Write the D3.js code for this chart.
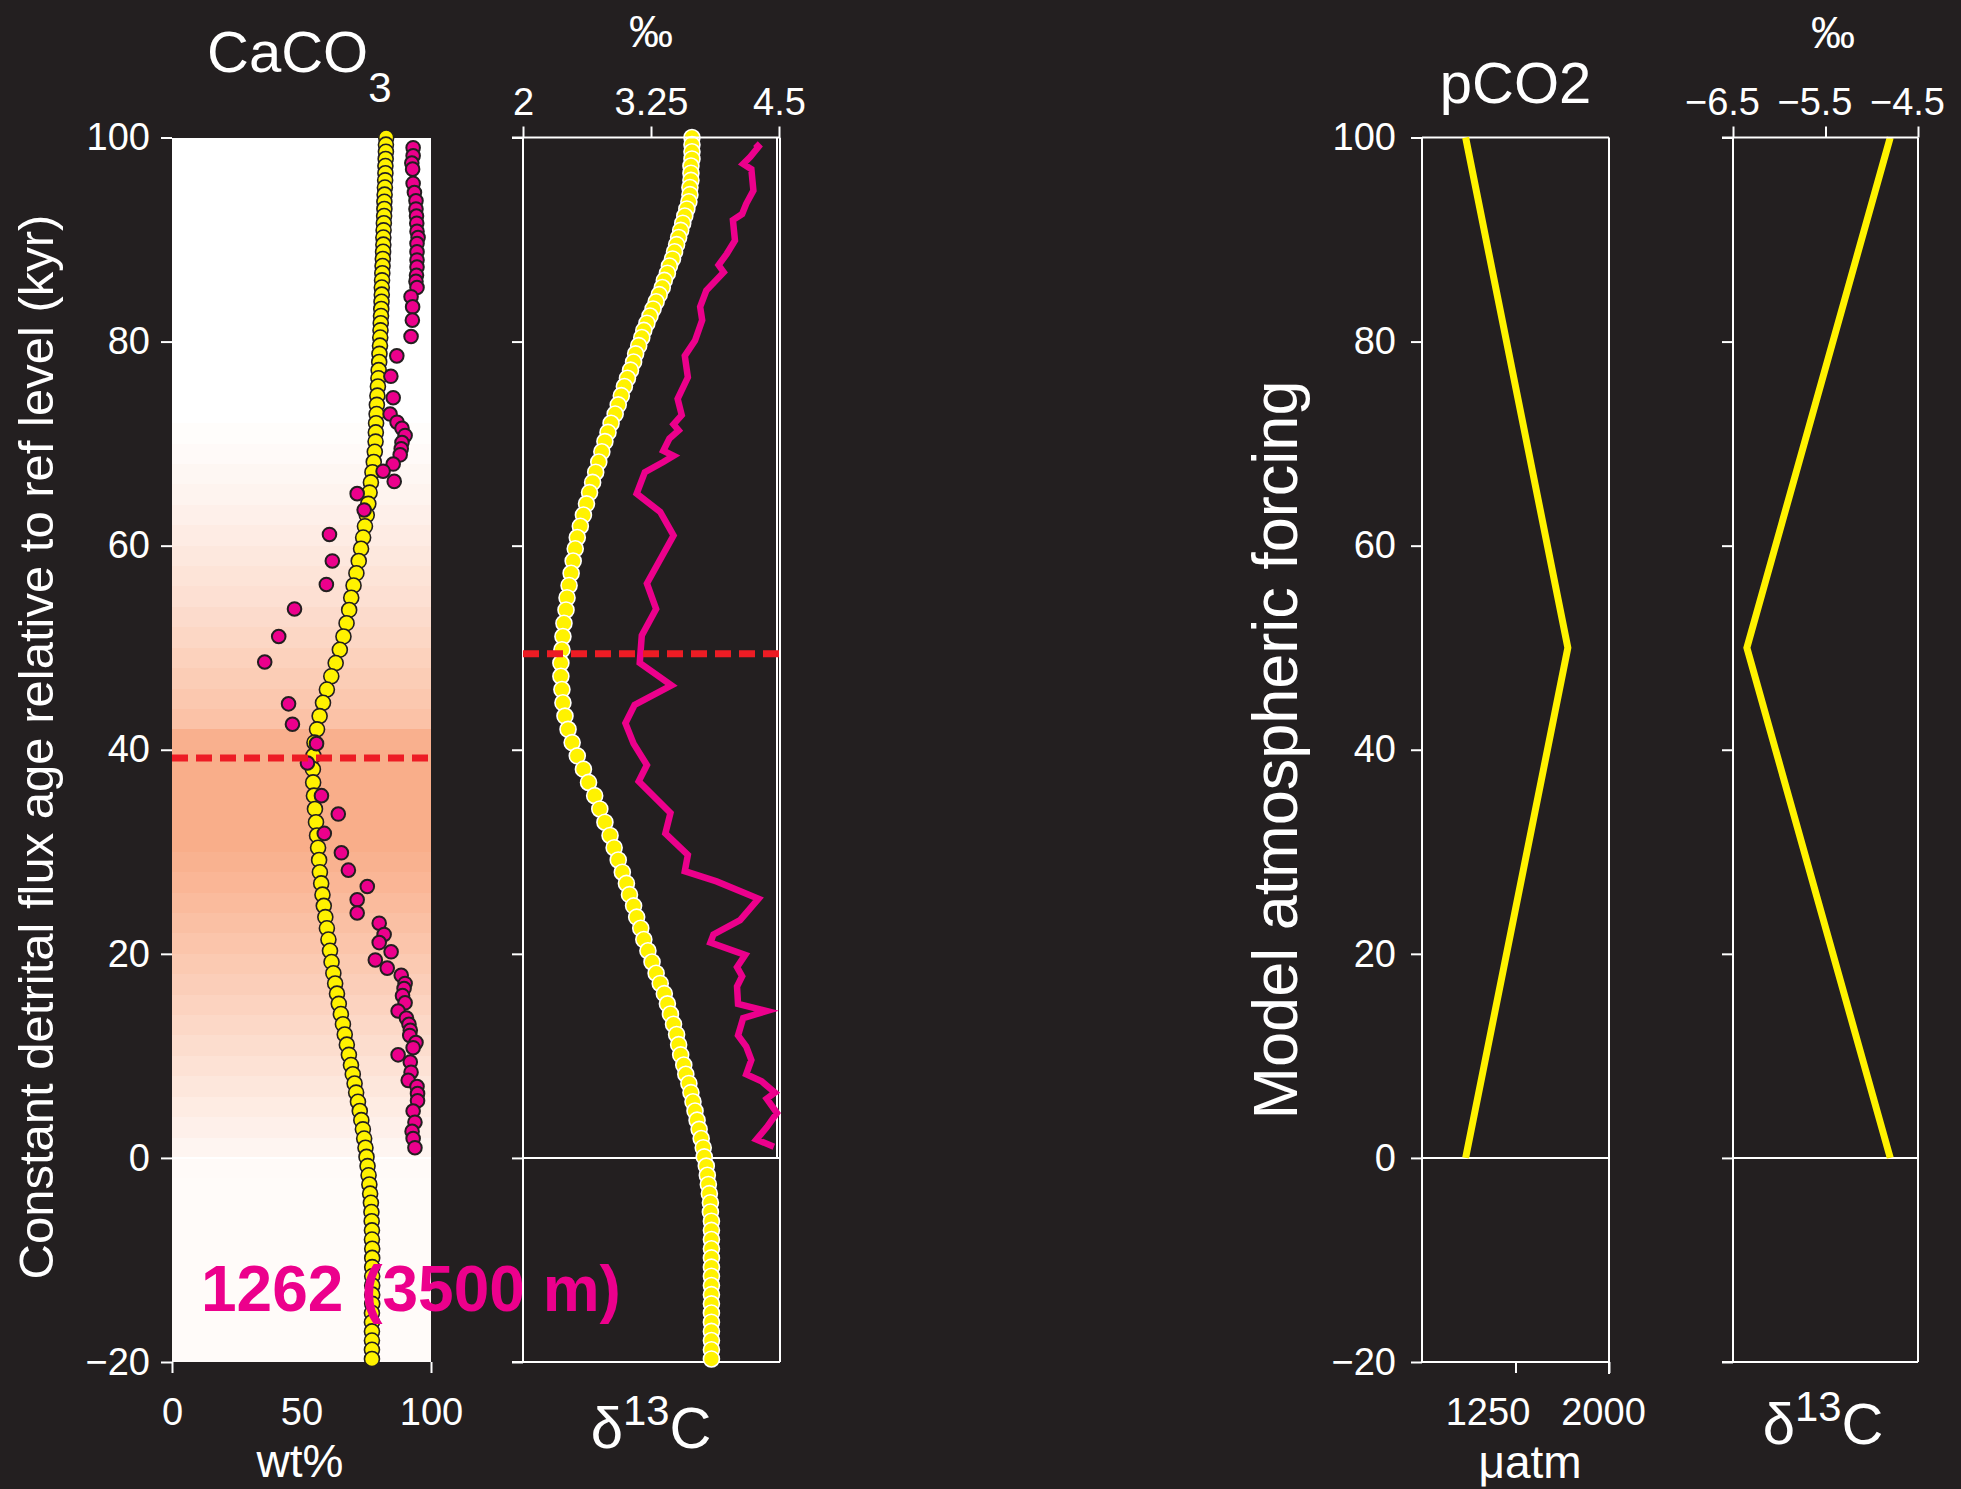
<!DOCTYPE html>
<html>
<head>
<meta charset="utf-8">
<script src="https://cdn.jsdelivr.net/npm/d3@7"></script>
<style>
    body { margin: 0; background: #231f20; }
    svg { display: block; }
</style>
</head>
<body>
<script>
// ages of the model output points (kyr), shared by the two model curves
var modelAge = [100, 99.3, 98.6, 97.9, 97.2, 96.5, 95.8, 95.1, 94.4, 93.7,
    93.0, 92.3, 91.6, 90.9, 90.2, 89.5, 88.8, 88.1, 87.4, 86.7,
    86.0, 85.3, 84.6, 83.9, 83.2, 82.5, 81.8, 81.1, 80.4, 79.6,
    78.8, 78.0, 77.2, 76.4, 75.6, 74.7, 73.8, 72.9, 72.0, 71.1,
    70.2, 69.2, 68.2, 67.2, 66.2, 65.2, 64.1, 63.0, 61.9, 60.8,
    59.7, 58.5, 57.3, 56.1, 54.9, 53.7, 52.4, 51.1, 49.8, 48.5,
    47.2, 45.9, 44.6, 43.3, 42.0, 40.7, 39.4, 38.1, 36.8, 35.5,
    34.2, 32.9, 31.6, 30.4, 29.2, 28.0, 26.9, 25.8, 24.7, 23.6,
    22.5, 21.4, 20.3, 19.2, 18.1, 17.1, 16.1, 15.1, 14.1, 13.1,
    12.1, 11.1, 10.1, 9.1, 8.2, 7.3, 6.4, 5.5, 4.6, 3.7,
    2.8, 1.9, 1.0, 0.1, -0.8, -1.7, -2.6, -3.5, -4.4, -5.3,
    -6.2, -7.1, -8.0, -8.9, -9.8, -10.7, -11.6, -12.5, -13.4, -14.3,
    -15.2, -16.1, -17.0, -17.9, -18.8, -19.7];

var modelCaCO3 = [82.7, 82.6, 82.6, 82.5, 82.4, 82.4, 82.3, 82.2, 82.1, 82.0,
    82.0, 81.9, 81.8, 81.7, 81.6, 81.6, 81.5, 81.4, 81.3, 81.2,
    81.1, 81.0, 81.0, 80.9, 80.8, 80.7, 80.6, 80.5, 80.4, 80.3,
    80.1, 80.0, 79.8, 79.7, 79.5, 79.3, 79.1, 79.0, 78.8, 78.7,
    78.6, 78.3, 77.9, 77.4, 76.8, 76.3, 75.8, 75.2, 74.5, 73.8,
    73.0, 72.1, 71.2, 70.1, 69.2, 68.4, 67.4, 66.2, 64.8, 63.2,
    61.5, 59.8, 58.3, 57.0, 56.0, 55.0, 54.6, 54.4, 54.5, 54.8,
    55.2, 55.6, 56.0, 56.4, 56.8, 57.1, 57.6, 58.1, 58.6, 59.2,
    59.8, 60.4, 61.0, 61.6, 62.3, 63.0, 63.7, 64.4, 65.2, 66.0,
    66.7, 67.5, 68.3, 69.1, 69.8, 70.5, 71.1, 71.8, 72.5, 73.1,
    73.7, 74.2, 74.7, 75.1, 75.5, 75.9, 76.2, 76.5, 76.8, 77.0,
    77.1, 77.2, 77.2, 77.3, 77.3, 77.3, 77.3, 77.3, 77.3, 77.3,
    77.2, 77.2, 77.2, 77.2, 77.2, 77.2];

var modelD13C = [3.65, 3.65, 3.65, 3.65, 3.64, 3.64, 3.64, 3.63, 3.63, 3.62,
    3.60, 3.58, 3.56, 3.54, 3.52, 3.50, 3.48, 3.46, 3.43, 3.41,
    3.38, 3.36, 3.33, 3.30, 3.27, 3.24, 3.21, 3.18, 3.16, 3.13,
    3.10, 3.08, 3.05, 3.02, 2.99, 2.96, 2.93, 2.90, 2.86, 2.83,
    2.80, 2.77, 2.74, 2.71, 2.68, 2.65, 2.62, 2.59, 2.56, 2.53,
    2.51, 2.49, 2.47, 2.45, 2.43, 2.42, 2.40, 2.39, 2.38, 2.37,
    2.37, 2.38, 2.39, 2.41, 2.44, 2.48, 2.53, 2.59, 2.64, 2.70,
    2.75, 2.80, 2.85, 2.89, 2.93, 2.97, 3.01, 3.04, 3.08, 3.11,
    3.15, 3.18, 3.22, 3.26, 3.30, 3.34, 3.38, 3.41, 3.44, 3.47,
    3.50, 3.52, 3.54, 3.57, 3.59, 3.62, 3.64, 3.66, 3.68, 3.70,
    3.72, 3.74, 3.76, 3.77, 3.79, 3.80, 3.81, 3.82, 3.83, 3.83,
    3.84, 3.84, 3.84, 3.84, 3.84, 3.84, 3.84, 3.84, 3.84, 3.84,
    3.84, 3.84, 3.84, 3.84, 3.84, 3.84];

// site 1262 measurements
var siteAge = [99.0, 98.2, 97.5, 96.9, 95.5, 94.6, 93.8, 93.0, 92.3, 91.6,
    90.8, 90.2, 89.6, 88.8, 88.0, 87.3, 86.5, 85.9, 85.3, 84.4,
    83.4, 82.1, 80.5, 78.6, 76.6, 74.5, 72.9, 72.1, 71.5, 70.8,
    70.1, 69.5, 68.9, 68.0, 67.3, 66.3, 65.1, 63.5, 61.1, 58.5,
    56.2, 53.8, 51.1, 48.6, 44.5, 42.5, 40.6, 38.7, 35.5, 33.7,
    31.8, 29.9, 28.2, 26.6, 25.3, 24.0, 23.0, 21.9, 21.1, 20.2,
    19.4, 18.6, 17.9, 17.1, 16.6, 15.9, 15.2, 14.4, 13.7, 13.1,
    12.5, 12.0, 11.3, 10.8, 10.1, 9.4, 8.4, 7.6, 7.0, 6.3,
    5.6, 4.6, 3.5, 2.6, 1.9, 1.0];

var siteCaCO3 = [93.1, 93.1, 92.6, 92.9, 93.1, 93.6, 94.2, 94.2, 94.4, 94.5,
    94.6, 95.0, 94.6, 94.6, 94.6, 94.6, 94.4, 94.2, 94.6, 92.3,
    92.9, 92.8, 92.3, 86.8, 84.5, 85.4, 84.2, 86.9, 88.8, 90.0,
    88.8, 88.5, 88.1, 85.4, 81.5, 85.8, 71.5, 74.2, 60.8, 61.9,
    59.6, 47.3, 41.2, 35.8, 45.0, 46.5, 55.8, 52.3, 57.7, 64.2,
    58.8, 65.4, 68.1, 75.4, 71.5, 71.5, 80.0, 81.9, 80.0, 84.6,
    78.5, 83.1, 88.5, 90.0, 89.6, 89.0, 90.0, 87.3, 90.5, 91.5,
    92.0, 91.8, 94.2, 93.1, 87.3, 92.0, 92.3, 91.2, 94.6, 94.8,
    94.8, 93.1, 93.8, 92.7, 93.1, 93.8];

var siteD13CAge = [99.4, 99.1, 98.1, 97.4, 96.9, 94.8, 93.5, 92.5, 91.9, 89.9,
    88.6, 87.5, 86.8, 85.0, 83.4, 82.1, 80.1, 78.6, 76.5, 74.4,
    72.8, 71.9, 71.3, 70.5, 69.3, 68.8, 68.2, 67.2, 65.1, 63.3,
    61.0, 56.3, 53.8, 51.2, 48.5, 46.3, 44.4, 42.6, 40.6, 38.5,
    36.9, 33.8, 31.8, 29.7, 28.1, 27.1, 25.4, 23.3, 21.9, 21.1,
    19.9, 18.7, 17.8, 16.8, 15.1, 14.4, 13.7, 12.0, 10.9, 9.6,
    8.2, 7.5, 6.4, 5.8, 4.4, 3.0, 1.8, 1.1];

var siteD13C = [4.27, 4.30, 4.22, 4.15, 4.23, 4.25, 4.18, 4.14, 4.05, 4.07,
    3.99, 3.91, 3.96, 3.79, 3.73, 3.75, 3.68, 3.58, 3.61, 3.51,
    3.55, 3.47, 3.52, 3.43, 3.37, 3.47, 3.37, 3.19, 3.11, 3.34,
    3.47, 3.21, 3.30, 3.16, 3.14, 3.45, 3.09, 3.00, 3.08, 3.21,
    3.13, 3.44, 3.39, 3.61, 3.58, 3.89, 4.30, 4.12, 3.86, 3.83,
    4.17, 4.09, 4.14, 4.09, 4.10, 4.38, 4.15, 4.10, 4.18, 4.23,
    4.18, 4.33, 4.46, 4.38, 4.48, 4.38, 4.28, 4.45];

// shading behind the CaCO3 panel, 2 kyr bands (bottom edge age)
var bandAge = [-20, -18, -16, -14, -12, -10, -8, -6, -4, -2,
    0, 2, 4, 6, 8, 10, 12, 14, 16, 18,
    20, 22, 24, 26, 28, 30, 32, 34, 36, 38,
    40, 42, 44, 46, 48, 50, 52, 54, 56, 58,
    60, 62, 64, 66, 68, 70, 72, 74, 76, 78,
    80, 82, 84, 86, 88, 90, 92, 94, 96, 98];
var bandShade = [0.05, 0.05, 0.05, 0.05, 0.05, 0.05, 0.05, 0.05, 0.05, 0.06,
    0.12, 0.18, 0.24, 0.30, 0.36, 0.42, 0.48, 0.54, 0.60, 0.66,
    0.72, 0.78, 0.84, 0.90, 0.95, 1.0, 1.0, 1.0, 1.0, 1.0,
    0.97, 0.75, 0.68, 0.62, 0.56, 0.50, 0.44, 0.38, 0.33, 0.28,
    0.23, 0.18, 0.14, 0.10, 0.06, 0.03, 0, 0, 0, 0,
    0, 0, 0, 0, 0, 0, 0, 0, 0, 0];

// horizons marked with dashes
var caco3Horizon = 39.2;
var d13cHorizon = 49.4;

// model atmospheric forcing
var forcingAge = [0, 50, 100];
var forcingPCO2 = [850, 1670, 850];
var forcingD13C = [-4.8, -6.35, -4.8];

var ageTicks = [-20, 0, 20, 40, 60, 80, 100];
var caco3Ticks = [0, 50, 100];
var d13cTicks = [2, 3.25, 4.5];
var pco2Ticks = [1250, 2000];
var atmTicks = [-6.5, -5.5, -4.5];

var bg = "#231f20",
    yellow = "#fff200",
    magenta = "#ec008c",
    red = "#ed1c24",
    font = "'Liberation Sans', Arial, Helvetica, sans-serif";

var svg = d3.select("body").append("svg")
    .attr("width", 1961)
    .attr("height", 1489)
    .style("font-family", font);

svg.append("rect")
    .attr("width", 1961)
    .attr("height", 1489)
    .attr("fill", bg);

var y = d3.scaleLinear().domain([-20, 100]).range([1362, 137.5]);

caco3Panel();
d13cPanel();
pco2Panel();
atmD13CPanel();

function styleAxis(g, size) {
    g.attr("font-size", size).attr("font-family", font);
    g.select(".domain").remove();
    g.selectAll(".tick line").attr("stroke", "#fff").attr("stroke-width", 2);
    g.selectAll(".tick text").attr("fill", "#fff");
}

function frameLine(x1, y1, x2, y2) {
    svg.append("line")
        .attr("x1", x1).attr("y1", y1)
        .attr("x2", x2).attr("y2", y2)
        .attr("stroke", "#fff")
        .attr("stroke-width", 2);
}

function delta13(x, yy, size) {
    var t = svg.append("text")
        .attr("x", x)
        .attr("y", yy)
        .attr("text-anchor", "middle")
        .attr("font-size", size)
        .attr("fill", "#fff");
    t.append("tspan").text("\u03b4");
    t.append("tspan").attr("font-size", size * 0.72).attr("dy", -size * 0.4).text("13");
    t.append("tspan").attr("dy", size * 0.4).text("C");
}

function caco3Panel() {
    var x = d3.scaleLinear().domain([0, 100]).range([172, 431]);
    var shade = d3.interpolateRgb("#ffffff", "#f9ae8a");

    svg.append("g").selectAll("rect")
        .data(bandAge)
        .enter().append("rect")
        .attr("x", x(0))
        .attr("width", x(100) - x(0))
        .attr("y", function(d) { return y(d + 2); })
        .attr("height", function(d) { return y(d) - y(d + 2); })
        .attr("shape-rendering", "crispEdges")
        .attr("fill", function(d, i) { return shade(bandShade[i]); });

    frameLine(x(0), y(0), x(100), y(0));

    svg.append("g").selectAll("circle")
        .data(modelAge)
        .enter().append("circle")
        .attr("cx", function(d, i) { return x(modelCaCO3[i]); })
        .attr("cy", function(d) { return y(d); })
        .attr("r", 7.5)
        .attr("fill", yellow)
        .attr("stroke", bg)
        .attr("stroke-width", 1.6);

    svg.append("g").selectAll("circle")
        .data(siteAge)
        .enter().append("circle")
        .attr("cx", function(d, i) { return x(siteCaCO3[i]); })
        .attr("cy", function(d) { return y(d); })
        .attr("r", 6.8)
        .attr("fill", magenta)
        .attr("stroke", bg)
        .attr("stroke-width", 2);

    svg.append("text")
        .attr("x", 201)
        .attr("y", 1311)
        .attr("font-size", 64)
        .attr("font-weight", "bold")
        .attr("fill", magenta)
        .text("1262 (3500 m)");

    svg.append("line")
        .attr("x1", x(0)).attr("x2", x(100))
        .attr("y1", y(caco3Horizon)).attr("y2", y(caco3Horizon))
        .attr("stroke", red)
        .attr("stroke-width", 7)
        .attr("stroke-dasharray", "16,8");

    var yAxis = svg.append("g")
        .attr("transform", "translate(" + x(0) + ",0)")
        .call(d3.axisLeft(y).tickValues(ageTicks).tickSize(11).tickPadding(11));
    styleAxis(yAxis, 38);

    var xAxis = svg.append("g")
        .attr("transform", "translate(0," + y(-20) + ")")
        .call(d3.axisBottom(x).tickValues(caco3Ticks).tickSize(11).tickPadding(25));
    styleAxis(xAxis, 38);
    xAxis.selectAll(".tick line").filter(function(d) { return d === 50; }).remove();

    var title = svg.append("text")
        .attr("x", 207)
        .attr("y", 72)
        .attr("font-size", 58)
        .attr("fill", "#fff");
    title.append("tspan").text("CaCO");
    title.append("tspan").attr("font-size", 42).attr("dy", 30).text("3");

    svg.append("text")
        .attr("x", 300)
        .attr("y", 1477)
        .attr("text-anchor", "middle")
        .attr("font-size", 46)
        .attr("fill", "#fff")
        .text("wt%");

    svg.append("text")
        .attr("transform", "translate(53,747) rotate(-90)")
        .attr("text-anchor", "middle")
        .attr("font-size", 49)
        .attr("fill", "#fff")
        .text("Constant detrital flux age relative to ref level (kyr)");
}

function d13cPanel() {
    var x = d3.scaleLinear().domain([2, 4.5]).range([523, 779]);

    frameLine(x(2), y(100), x(2), y(-20));
    frameLine(x(2) - 11, y(-20), x(4.5) + 1, y(-20));
    frameLine(x(4.5) + 1, y(100), x(4.5) + 1, y(-20));
    frameLine(x(4.5) - 2, y(100), x(4.5) - 2, y(0));
    frameLine(x(2), y(0), x(4.5) + 1, y(0));

    var line = d3.line()
        .x(function(d, i) { return x(siteD13C[i]); })
        .y(function(d) { return y(d); });

    svg.append("path")
        .datum(siteD13CAge)
        .attr("d", line)
        .attr("fill", "none")
        .attr("stroke", magenta)
        .attr("stroke-width", 6.5)
        .attr("stroke-linejoin", "miter");

    svg.append("g").selectAll("circle")
        .data(modelAge)
        .enter().append("circle")
        .attr("cx", function(d, i) { return x(modelD13C[i]); })
        .attr("cy", function(d) { return y(d); })
        .attr("r", 8)
        .attr("fill", yellow)
        .attr("stroke", "#fff")
        .attr("stroke-width", 1.6);

    svg.append("line")
        .attr("x1", x(2)).attr("x2", x(4.5))
        .attr("y1", y(d13cHorizon)).attr("y2", y(d13cHorizon))
        .attr("stroke", red)
        .attr("stroke-width", 7)
        .attr("stroke-dasharray", "16,8");

    var yAxis = svg.append("g")
        .attr("transform", "translate(" + x(2) + ",0)")
        .call(d3.axisLeft(y).tickValues(ageTicks).tickSize(11).tickFormat(""));
    styleAxis(yAxis, 38);

    var topAxis = svg.append("g")
        .attr("transform", "translate(0," + y(100) + ")")
        .call(d3.axisTop(x).tickValues(d13cTicks).tickSize(11).tickPadding(12)
            .tickFormat(function(d) { return d; }));
    styleAxis(topAxis, 38);
    frameLine(x(2) - 11, y(100), x(4.5) + 1, y(100));

    svg.append("text")
        .attr("x", (x(2) + x(4.5)) / 2)
        .attr("y", 47)
        .attr("text-anchor", "middle")
        .attr("font-size", 44)
        .attr("fill", "#fff")
        .text("\u2030");

    delta13((x(2) + x(4.5)) / 2, 1448, 58);
}

function pco2Panel() {
    var x = d3.scaleLinear().domain([500, 2000]).range([1422, 1609]);

    frameLine(x(500), y(100), x(2000), y(100));
    frameLine(x(2000), y(100), x(2000), y(-20) + 12);
    frameLine(x(500), y(100), x(500), y(-20));
    frameLine(x(500), y(-20), x(2000), y(-20));
    frameLine(x(500), y(0), x(2000), y(0));

    var line = d3.line()
        .x(function(d, i) { return x(forcingPCO2[i]); })
        .y(function(d) { return y(d); });

    svg.append("path")
        .datum(forcingAge)
        .attr("d", line)
        .attr("fill", "none")
        .attr("stroke", yellow)
        .attr("stroke-width", 7);

    var yAxis = svg.append("g")
        .attr("transform", "translate(" + x(500) + ",0)")
        .call(d3.axisLeft(y).tickValues(ageTicks).tickSize(11).tickPadding(15));
    styleAxis(yAxis, 38);

    var xAxis = svg.append("g")
        .attr("transform", "translate(0," + y(-20) + ")")
        .call(d3.axisBottom(x).tickValues(pco2Ticks).tickSize(11).tickPadding(25)
            .tickFormat(d3.format("d")));
    styleAxis(xAxis, 38);
    xAxis.selectAll(".tick text")
        .attr("dx", function(d) { return d === 1250 ? -28 : -6; });

    svg.append("text")
        .attr("x", (x(500) + x(2000)) / 2)
        .attr("y", 103)
        .attr("text-anchor", "middle")
        .attr("font-size", 58)
        .attr("fill", "#fff")
        .text("pCO2");

    svg.append("text")
        .attr("x", 1530)
        .attr("y", 1478)
        .attr("text-anchor", "middle")
        .attr("font-size", 46)
        .attr("fill", "#fff")
        .text("\u03bcatm");

    svg.append("text")
        .attr("transform", "translate(1297,750) rotate(-90)")
        .attr("text-anchor", "middle")
        .attr("font-size", 63)
        .attr("fill", "#fff")
        .text("Model atmospheric forcing");
}

function atmD13CPanel() {
    var x = d3.scaleLinear().domain([-6.5, -4.5]).range([1733, 1918]);

    frameLine(x(-6.5), y(100), x(-6.5), y(-20));
    frameLine(x(-4.5), y(100), x(-4.5), y(-20));
    frameLine(x(-6.5) - 11, y(-20), x(-4.5), y(-20));
    frameLine(x(-6.5), y(0), x(-4.5), y(0));

    var line = d3.line()
        .x(function(d, i) { return x(forcingD13C[i]); })
        .y(function(d) { return y(d); });

    svg.append("path")
        .datum(forcingAge)
        .attr("d", line)
        .attr("fill", "none")
        .attr("stroke", yellow)
        .attr("stroke-width", 7);

    var yAxis = svg.append("g")
        .attr("transform", "translate(" + x(-6.5) + ",0)")
        .call(d3.axisLeft(y).tickValues(ageTicks).tickSize(11).tickFormat(""));
    styleAxis(yAxis, 38);

    var topAxis = svg.append("g")
        .attr("transform", "translate(0," + y(100) + ")")
        .call(d3.axisTop(x).tickValues(atmTicks).tickSize(11).tickPadding(12)
            .tickFormat(d3.format(".1f")));
    styleAxis(topAxis, 38);
    topAxis.selectAll(".tick text").attr("dx", -11);
    frameLine(x(-6.5) - 11, y(100), x(-4.5), y(100));

    svg.append("text")
        .attr("x", 1833)
        .attr("y", 48)
        .attr("text-anchor", "middle")
        .attr("font-size", 44)
        .attr("fill", "#fff")
        .text("\u2030");

    delta13(1823, 1444, 58);
}
</script>
</body>
</html>
